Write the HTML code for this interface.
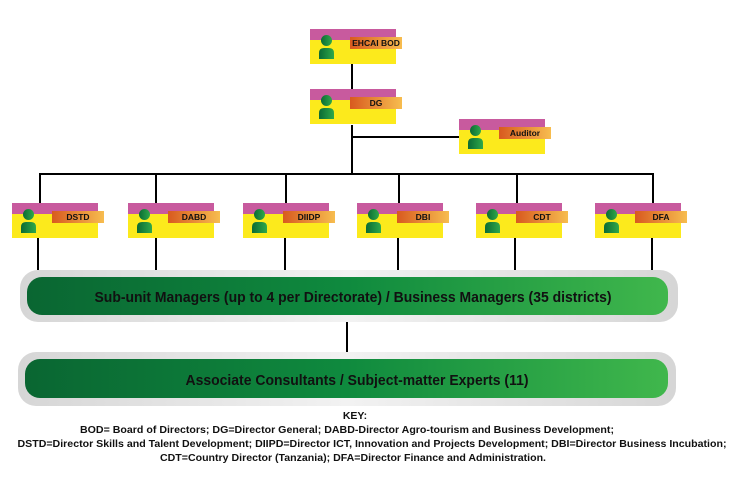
<!DOCTYPE html>
<html><head><meta charset="utf-8"><style>
html,body{margin:0;padding:0;background:#fff;width:729px;height:479px;overflow:hidden}
svg{display:block}
text{font-family:"Liberation Sans Narrow","Liberation Sans",sans-serif;font-weight:bold}
</style></head><body>
<svg width="729" height="479" viewBox="0 0 729 479" xmlns="http://www.w3.org/2000/svg">
<defs>
<linearGradient id="lab" x1="0" x2="1"><stop offset="0" stop-color="#d85a1f"/><stop offset="1" stop-color="#f7bd4f"/></linearGradient>
<linearGradient id="per" x1="0" x2="1"><stop offset="0" stop-color="#0b6b34"/><stop offset="1" stop-color="#2fa84a"/></linearGradient>
<linearGradient id="grn" x1="0" x2="1"><stop offset="0" stop-color="#0a6632"/><stop offset="0.5" stop-color="#0f8a3e"/><stop offset="1" stop-color="#40b74c"/></linearGradient>
<linearGradient id="gry" x1="0" x2="1"><stop offset="0" stop-color="#d6d6d6"/><stop offset="0.5" stop-color="#f2f2f2"/><stop offset="1" stop-color="#d6d6d6"/></linearGradient>
<g id="box">
<rect x="0" y="0" width="86" height="11" fill="#c85a9e"/>
<rect x="0" y="11" width="86" height="24" fill="#fcea1c"/>
<rect x="40" y="8" width="52" height="12" fill="url(#lab)"/>
<circle cx="16.5" cy="11.5" r="5.5" fill="url(#per)"/>
<path d="M9 30 V24 Q9 19 14 19 H19 Q24 19 24 24 V30 Z" fill="url(#per)"/>
</g>
</defs>
<g stroke="#000" stroke-width="2" fill="none">
<line x1="352" y1="64" x2="352" y2="89"/>
<line x1="352" y1="125" x2="352" y2="174"/>
<line x1="352" y1="137" x2="459" y2="137"/>
<line x1="39" y1="174" x2="654" y2="174"/>
<line x1="40" y1="174" x2="40" y2="203"/>
<line x1="156" y1="174" x2="156" y2="203"/>
<line x1="286" y1="174" x2="286" y2="203"/>
<line x1="399" y1="174" x2="399" y2="203"/>
<line x1="517" y1="174" x2="517" y2="203"/>
<line x1="653" y1="174" x2="653" y2="203"/>
<line x1="38" y1="238" x2="38" y2="270"/>
<line x1="156" y1="238" x2="156" y2="270"/>
<line x1="285" y1="238" x2="285" y2="270"/>
<line x1="398" y1="238" x2="398" y2="270"/>
<line x1="515" y1="238" x2="515" y2="270"/>
<line x1="652" y1="238" x2="652" y2="270"/>
<line x1="347" y1="322" x2="347" y2="352"/>
</g>
<g font-size="8.5" text-anchor="middle" fill="#111">
<use href="#box" x="310" y="29"/><text x="376" y="46">EHCAI BOD</text>
<use href="#box" x="310" y="89"/><text x="376" y="106">DG</text>
<use href="#box" x="459" y="119"/><text x="525" y="136">Auditor</text>
<use href="#box" x="12" y="203"/><text x="78" y="220">DSTD</text>
<use href="#box" x="128" y="203"/><text x="194" y="220">DABD</text>
<use href="#box" x="243" y="203"/><text x="309" y="220">DIIDP</text>
<use href="#box" x="357" y="203"/><text x="423" y="220">DBI</text>
<use href="#box" x="476" y="203"/><text x="542" y="220">CDT</text>
<use href="#box" x="595" y="203"/><text x="661" y="220">DFA</text>
</g>
<rect x="20" y="270" width="658" height="52" rx="18" fill="url(#gry)"/>
<rect x="27" y="277" width="641" height="38" rx="15" fill="url(#grn)"/>
<text x="353" y="302" font-size="14.5" text-anchor="middle" fill="#111" textLength="517" lengthAdjust="spacingAndGlyphs">Sub-unit Managers (up to 4 per Directorate) / Business Managers (35 districts)</text>
<rect x="18" y="352" width="658" height="54" rx="18" fill="url(#gry)"/>
<rect x="25" y="359" width="643" height="39" rx="15" fill="url(#grn)"/>
<text x="357" y="385" font-size="14.5" text-anchor="middle" fill="#111" textLength="343" lengthAdjust="spacingAndGlyphs">Associate Consultants / Subject-matter Experts (11)</text>
<g font-size="10.5" text-anchor="middle" fill="#111">
<text x="355" y="419">KEY:</text>
<text x="347" y="433" textLength="534" lengthAdjust="spacingAndGlyphs">BOD= Board of Directors; DG=Director General; DABD-Director Agro-tourism and Business Development;</text>
<text x="372" y="447" textLength="709" lengthAdjust="spacingAndGlyphs">DSTD=Director Skills and Talent Development; DIIPD=Director ICT, Innovation and Projects Development; DBI=Director Business Incubation;</text>
<text x="353" y="461" textLength="386" lengthAdjust="spacingAndGlyphs">CDT=Country Director (Tanzania); DFA=Director Finance and Administration.</text>
</g>
</svg>
</body></html>
